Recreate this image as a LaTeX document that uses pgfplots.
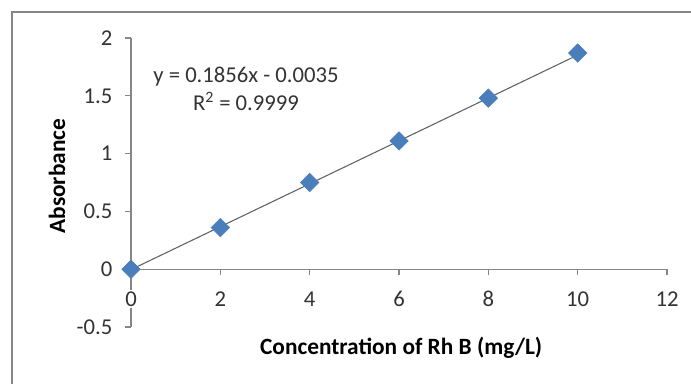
\documentclass[border=0pt]{standalone}
\usepackage{pgfplots}
\pgfplotsset{compat=1.18}
\usepackage{fontspec}
\setmainfont{Carlito}
\definecolor{excelblue}{HTML}{4A7EBB}
\definecolor{axgray}{HTML}{868686}
\begin{document}
\begin{tikzpicture}
\useasboundingbox (0,0) rectangle (518.25pt,287.25pt);
\draw[axgray, line width=1.1pt] (9pt,-2pt) -- (9pt,278.25pt) -- (520pt,278.25pt);
\begin{axis}[
  at={(98.25pt,42pt)}, anchor=south west,
  scale only axis, width=402pt, height=216.75pt,
  xmin=0, xmax=12, ymin=-0.5, ymax=2,
  axis lines=middle,
  axis line style={-, axgray, line width=0.8pt},
  hide obscured x ticks=false, hide obscured y ticks=false,
  xtick={0,2,...,12}, ytick={-0.5,0,0.5,1,1.5,2},
  tick align=outside, major tick length=4.5pt,
  tick style={axgray, line width=0.8pt},
  /pgf/number format/assume math mode=true,
  ticklabel style={font=\fontsize{17}{20}\selectfont, text=black!80},
  yticklabel style={/pgf/number format/fixed, xshift=-6pt},
  xticklabel style={yshift=-11pt, fill=white, inner sep=1pt},
  xlabel={Concentration of Rh B (mg/L)},
  ylabel={Absorbance},
  xlabel style={at={(rel axis cs:0.504,-0.073)}, anchor=center, font=\bfseries\fontsize{17.5}{20}\selectfont},
  ylabel style={at={(rel axis cs:-0.138,0.522)}, anchor=center, rotate=90, font=\bfseries\fontsize{17.5}{20}\selectfont},
  clip=false,
]
\addplot[no marks, color=black!62, line width=0.8pt] coordinates {(0,-0.0035) (10,1.8525)};
\addplot[only marks, mark=square*, mark size=4.9pt, mark options={rotate=45, fill=excelblue, draw=excelblue}]
  coordinates {(0,0) (2,0.36) (4,0.75) (6,1.11) (8,1.48) (10,1.87)};
\node[font=\fontsize{17}{21}\selectfont, text=black!80, align=center] at (axis cs:2.575,1.56)
  {y = 0.1856x - 0.0035\\R\textsuperscript{2} = 0.9999};
\end{axis}
\end{tikzpicture}
\end{document}
